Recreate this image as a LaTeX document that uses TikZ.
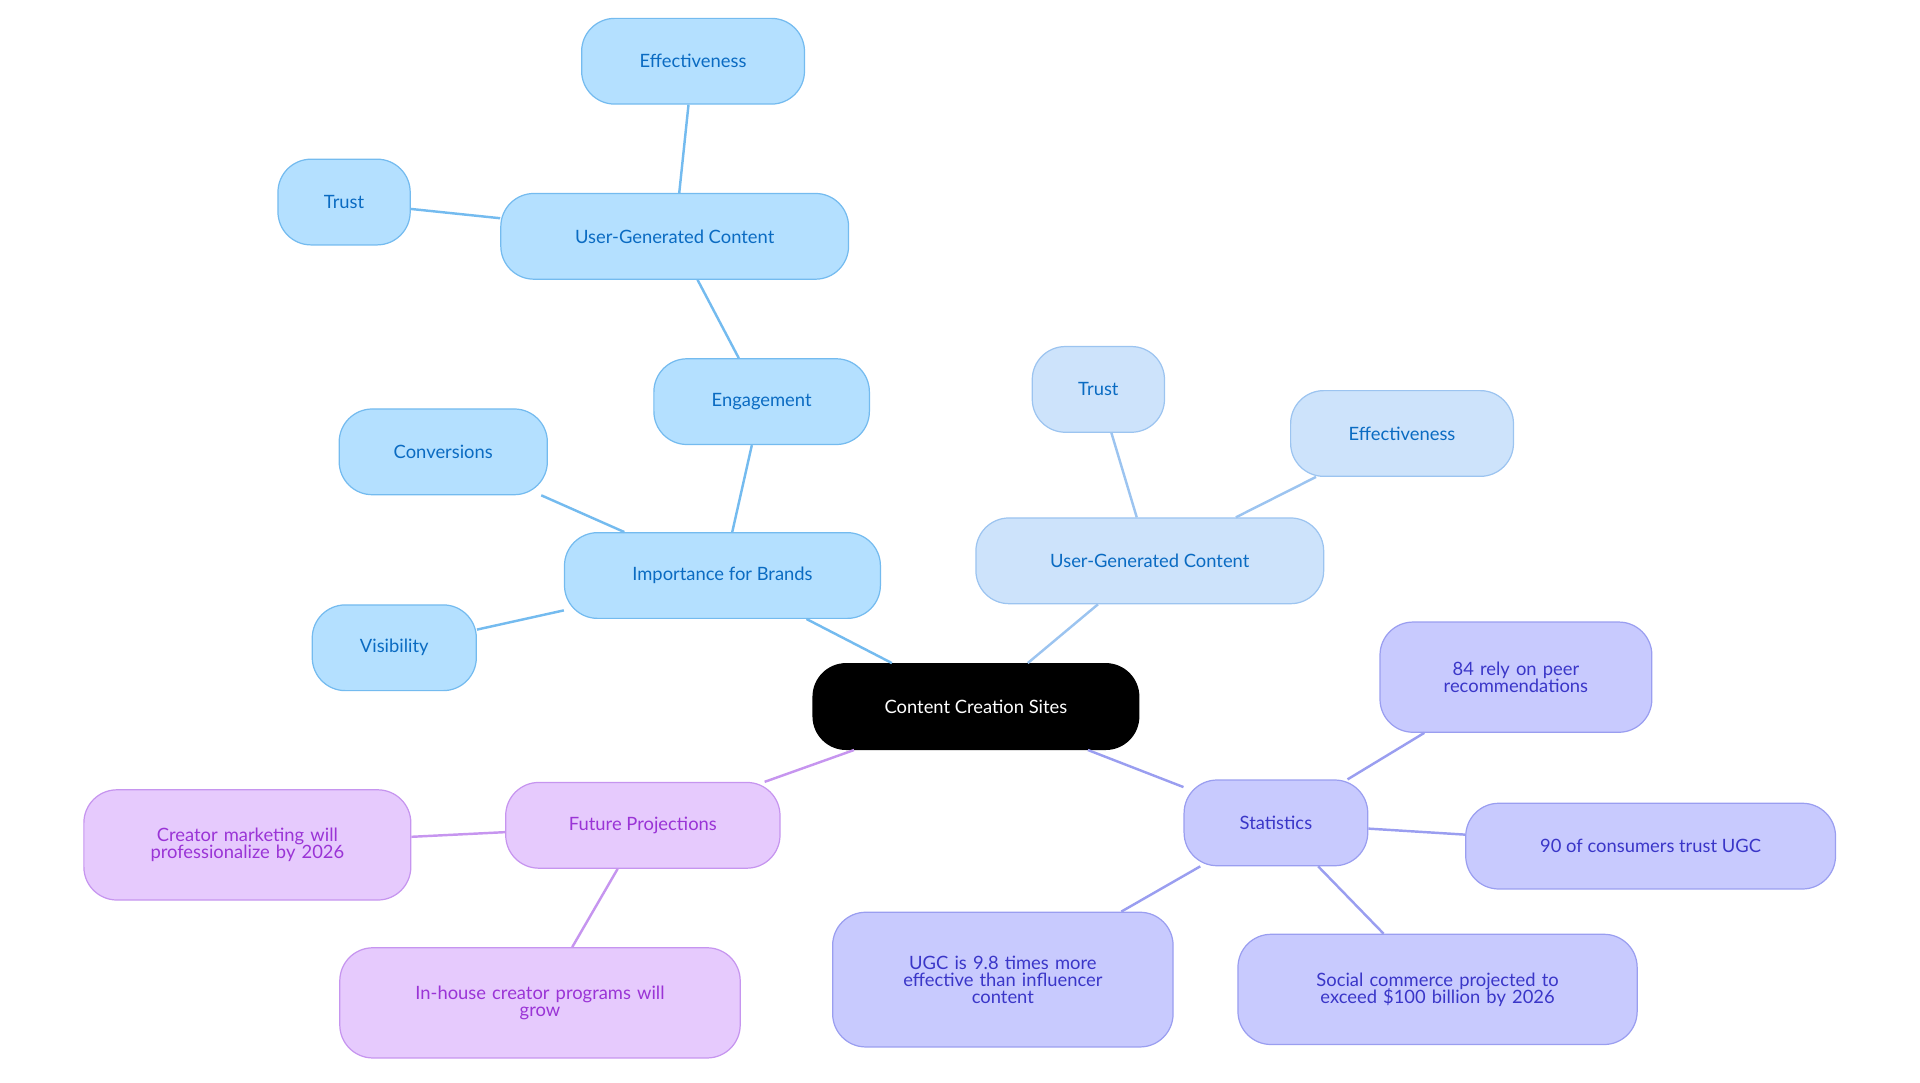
\documentclass[tikz,border=0pt]{standalone}
\usepackage{fontspec}
\setmainfont{Lato}
\begin{document}
\begin{tikzpicture}[x=1pt,y=-1pt,
 base/.style={rounded corners=27pt,draw,line width=1pt,minimum height=70pt,align=center,font=\fontsize{15}{17}\selectfont,inner sep=2pt},
 bl/.style={base,fill=blueF,draw=blueD,text=blueT},
 lb/.style={base,fill=lbF,draw=lbD,text=blueT},
 pu/.style={base,fill=puF,draw=puD,text=puT},
 pk/.style={base,fill=pkF,draw=pkD,text=pkT},
 eb/.style={draw=blueD,line width=2pt},
 el/.style={draw=lbD,line width=2pt},
 ep/.style={draw=puD,line width=2pt},
 ek/.style={draw=pkD,line width=2pt}]
\definecolor{blueF}{HTML}{B4E0FF}\definecolor{blueD}{HTML}{74BBEF}\definecolor{blueT}{HTML}{0A6BC2}
\definecolor{lbF}{HTML}{CDE3FB}\definecolor{lbD}{HTML}{9CC4F0}
\definecolor{puF}{HTML}{C8CAFE}\definecolor{puD}{HTML}{9A9EF0}\definecolor{puT}{HTML}{3A36C8}
\definecolor{pkF}{HTML}{E6CAFD}\definecolor{pkD}{HTML}{C695EF}\definecolor{pkT}{HTML}{9A34D6}
\useasboundingbox (0,0) rectangle (1568,884);
\node[base,fill=black!85!blue!60!black,fill=black,text=white,minimum width=266pt,draw=black] (c) at (797,577) {Content Creation Sites};
\node[bl,minimum width=258pt] (ib) at (590,470) {Importance for Brands};
\node[bl,minimum width=176pt] (en) at (622,328) {Engagement};
\node[bl,minimum width=284pt] (u1) at (551,193) {User-Generated Content};
\node[bl,minimum width=182pt] (e1) at (566,50) {Effectiveness};
\node[bl,minimum width=108pt] (t1) at (281,165) {Trust};
\node[bl,minimum width=170pt] (cv) at (362,369) {Conversions};
\node[bl,minimum width=134pt] (vi) at (322,529) {Visibility};
\node[lb,minimum width=284pt] (u2) at (939,458) {User-Generated Content};
\node[lb,minimum width=108pt] (t2) at (897,318) {Trust};
\node[lb,minimum width=182pt] (e2) at (1145,354) {Effectiveness};
\node[pu,minimum width=150pt] (st) at (1042,672) {Statistics};
\node[pu,minimum width=222pt,minimum height=90pt,text width=200pt] (s1) at (1238,553) {84 rely on peer\\[-3pt]recommendations};
\node[pu,minimum width=302pt] (s2) at (1348,691) {90 of consumers trust UGC};
\node[pu,minimum width=326pt,minimum height=90pt,text width=300pt] (s3) at (1174,808) {Social commerce projected to\\[-3pt]exceed \$100 billion by 2026};
\node[pu,minimum width=278pt,minimum height=110pt,text width=250pt] (s4) at (819,800) {UGC is 9.8 times more\\[-3pt]effective than influencer\\[-3pt]content};
\node[pk,minimum width=224pt] (fp) at (525,674) {Future Projections};
\node[pk,minimum width=267pt,minimum height=90pt,text width=250pt] (f1) at (202,690) {Creator marketing will\\[-3pt]professionalize by 2026};
\node[pk,minimum width=327pt,minimum height=90pt,text width=300pt] (f2) at (441,819) {In-house creator programs will\\[-3pt]grow};
\begin{scope}[on background layer/.try]
\end{scope}
\path[eb] (c) -- (ib) (ib) -- (en) (en) -- (u1) (u1) -- (e1) (u1) -- (t1) (ib) -- (cv) (ib) -- (vi);
\path[el] (c) -- (u2) (u2) -- (t2) (u2) -- (e2);
\path[ep] (c) -- (st) (st) -- (s1) (st) -- (s2) (st) -- (s3) (st) -- (s4);
\path[ek] (c) -- (fp) (fp) -- (f1) (fp) -- (f2);
\end{tikzpicture}
\end{document}
